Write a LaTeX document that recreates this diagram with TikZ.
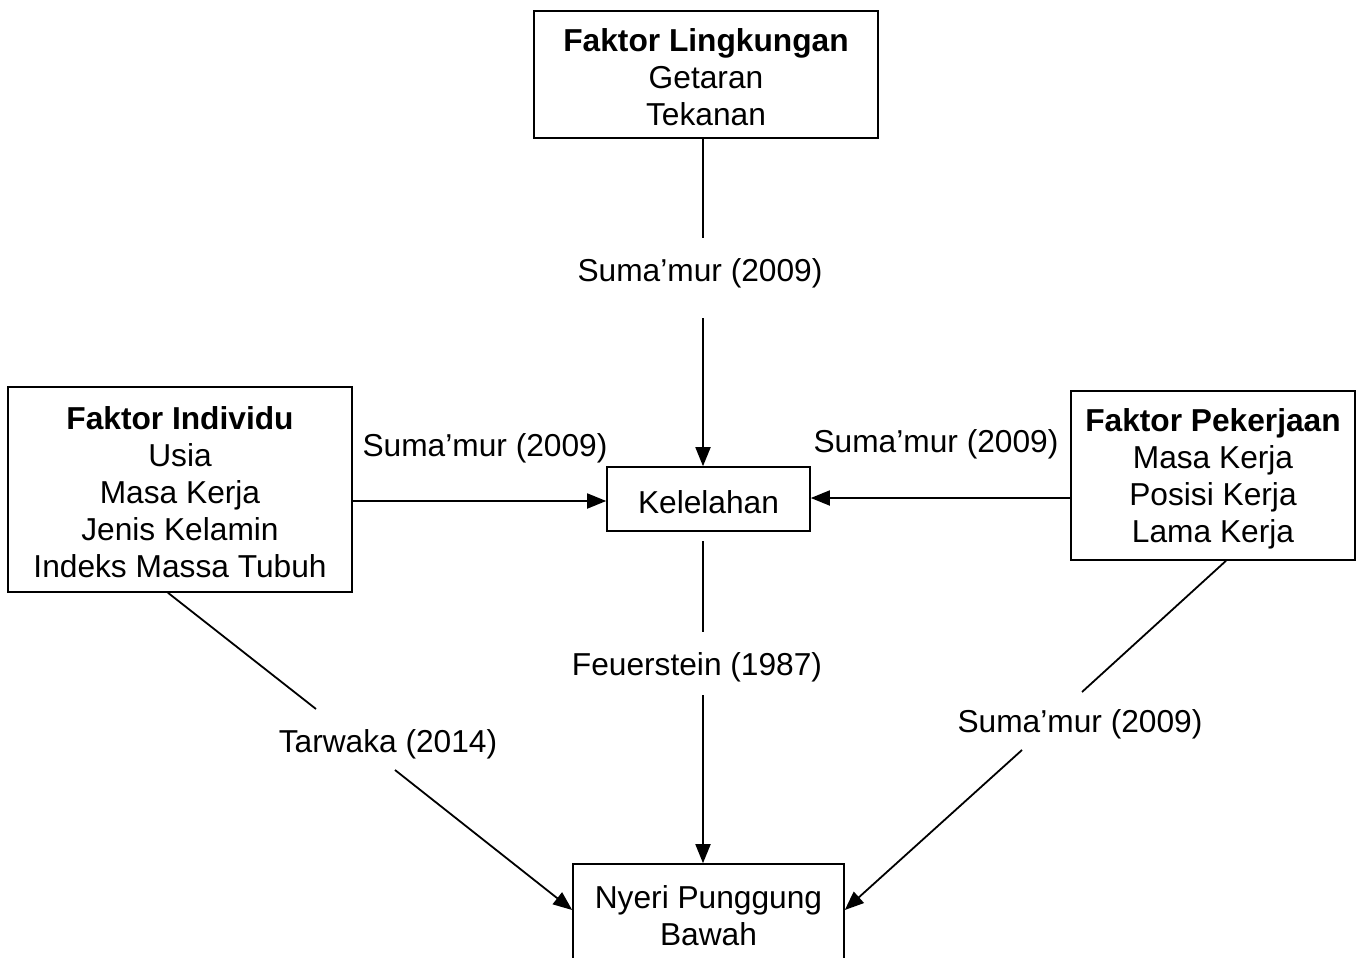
\documentclass[tikz,border=0pt]{standalone}
\usepackage{fontspec}
\setmainfont{Liberation Sans}
\usetikzlibrary{arrows.meta}
\newcommand{\topstrut}{\rule{0pt}{29pt}}
\begin{document}
\begin{tikzpicture}[x=1pt,y=-1pt,
  box/.style={draw,line width=1.6pt,align=center,inner sep=0pt,anchor=center},
  lab/.style={inner sep=0pt,anchor=center},
  conn/.style={line width=1.8pt},
  arr/.style={line width=1.8pt,-{Triangle[length=19pt,width=15pt]}},
  every node/.style={font=\fontsize{31.7}{37}\selectfont}]
\useasboundingbox (0,0) rectangle (1363,958);
% boxes
\node[box,minimum width=344pt,minimum height=127pt] (ling) at (706,74.5)
  {\topstrut\textbf{Faktor Lingkungan}\\Getaran\\Tekanan};
\node[box,minimum width=344pt,minimum height=205pt] (ind) at (180,489.5)
  {\topstrut\textbf{Faktor Individu}\\Usia\\Masa Kerja\\Jenis Kelamin\\Indeks Massa Tubuh};
\node[box,minimum width=284pt,minimum height=169pt] (pek) at (1213,475.5)
  {\topstrut\textbf{Faktor Pekerjaan}\\Masa Kerja\\Posisi Kerja\\Lama Kerja};
\node[box,minimum width=203pt,minimum height=64pt] (kel) at (708.5,499) {\topstrut Kelelahan};
\node[box,minimum width=271pt,minimum height=98pt] (nyeri) at (708.5,913)
  {\topstrut Nyeri Punggung\\Bawah};
% labels
\node[lab] (l1) at (700,273) {Suma’mur (2009)};
\node[lab] (l2) at (485,448) {Suma’mur (2009)};
\node[lab] (l3) at (936,444) {Suma’mur (2009)};
\node[lab] (l4) at (697,667) {Feuerstein (1987)};
\node[lab] (l5) at (388,744) {Tarwaka (2014)};
\node[lab] (l6) at (1080,724) {Suma’mur (2009)};
% break points
\coordinate (t1) at (703,238);
\coordinate (t2) at (703,318);
\coordinate (c0) at (703,541);
\coordinate (c1) at (703,632);
\coordinate (c2) at (703,695);
\coordinate (d1) at (316,709);
\coordinate (d2) at (395,770);
\coordinate (e1) at (1082,692);
\coordinate (e2) at (1022,750);
% connectors
\draw[conn] (ling.south -| t1) -- (t1);
\draw[arr] (t2) -- (kel.north -| t2);
\draw[arr] (ind.east |- 0,501) -- (kel.west |- 0,501);
\draw[arr] (pek.west |- 0,498) -- (kel.east |- 0,498);
\draw[conn] (c0) -- (c1);
\draw[arr] (c2) -- (nyeri.north -| c2);
\draw[conn] (ind.south -| 168,0) -- (d1);
\draw[arr] (d2) -- (nyeri.west |- 0,910);
\draw[conn] (pek.south -| 1226,0) -- (e1);
\draw[arr] (e2) -- (nyeri.east |- 0,910);
\end{tikzpicture}
\end{document}
